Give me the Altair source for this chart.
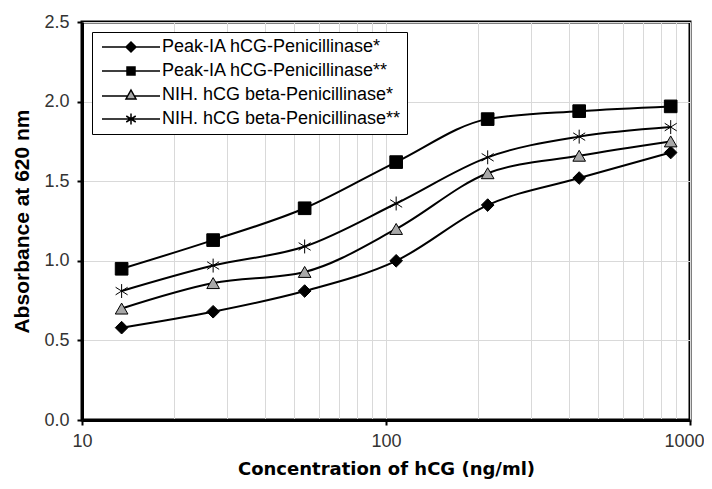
import altair as alt
import pandas as pd

# ---- data ----
conc = [13.5, 27, 54, 108, 216, 432, 864]
series_names = [
    "Peak-IA hCG-Penicillinase*",
    "Peak-IA hCG-Penicillinase**",
    "NIH. hCG beta-Penicillinase*",
    "NIH. hCG beta-Penicillinase**",
]
peak_ia_single = [0.58, 0.68, 0.81, 1.00, 1.35, 1.52, 1.68]
peak_ia_double = [0.95, 1.13, 1.33, 1.62, 1.89, 1.94, 1.97]
nih_single = [0.70, 0.86, 0.93, 1.20, 1.55, 1.66, 1.75]
nih_double = [0.81, 0.97, 1.09, 1.36, 1.65, 1.78, 1.84]

x_grid_values = [10, 20, 30, 40, 50, 60, 70, 80, 90,
                 100, 200, 300, 400, 500, 600, 700, 800, 900, 1000]
x_label_values = [10, 100, 1000]
y_tick_values = [0, 0.5, 1.0, 1.5, 2.0, 2.5]

rows = []
for name, vals in zip(series_names, [peak_ia_single, peak_ia_double, nih_single, nih_double]):
    for c, v in zip(conc, vals):
        rows.append({"series": name, "conc": c, "absorbance": v})
df = pd.DataFrame(rows)

star = "M0,-1.1V1.1M-0.95,-0.6L0.95,0.6M-0.95,0.6L0.95,-0.6"
marker_shapes = ["diamond", "square", "triangle-up", star]
legend_shapes = [
    "M-5.8,0H-1M1,0H5.8M-1,0L0,-1L1,0L0,1Z",
    "M-5.8,0H-0.8M0.8,0H5.8M-0.8,-0.8H0.8V0.8H-0.8Z",
    "M-5.8,0.2H-0.67M0.67,0.2H5.8M0,-1L1,0.8H-1Z",
    "M-5.8,0H5.8" + star,
]
fills = ["black", "black", "#a8a8a8", "black"]
strokes = ["black", "black", "black", "black"]
stroke_widths = [1, 1, 1.2, 2]

label_list = "[" + ",".join(str(v) for v in x_label_values) + "]"
major_test = f"indexof({label_list}, datum.value) >= 0"
last_test = f"datum.value == {x_label_values[-1]}"

x_enc = alt.X(
    "conc:Q",
    scale=alt.Scale(type="log", domain=[10, 1000], nice=False),
    axis=alt.Axis(
        values=x_grid_values,
        format="d",
        labelExpr=f"{major_test} ? datum.label : ''",
        labelOverlap=False,
        labelFlush=False,
        labelAlign={"condition": {"test": last_test, "value": "right"}, "value": "center"},
        labelOffset={"condition": {"test": last_test, "value": 14}, "value": 0},
        tickOpacity={"condition": {"test": major_test, "value": 1}, "value": 0},
        title="Concentration of hCG (ng/ml)",
        titleFont="DejaVu Sans",
        titleFontSize=18,
        titleFontWeight="bold",
        titlePadding=10,
        labelPadding=7,
    ),
)
y_enc = alt.Y(
    "absorbance:Q",
    scale=alt.Scale(domain=[0, 2.5], nice=False),
    axis=alt.Axis(
        values=y_tick_values,
        format=".1f",
        title="Absorbance at 620 nm",
        titleFont="Liberation Sans",
        titleFontSize=21,
        titleFontWeight="bold",
        titlePadding=11,
        labelPadding=8,
    ),
)

base = alt.Chart(df)

lines = base.mark_line(color="black", strokeWidth=2, interpolate="monotone").encode(
    x=x_enc, y=y_enc, detail="series:N", order="conc:Q"
)

points = base.mark_point(opacity=1, size=160).encode(
    x="conc:Q",
    y="absorbance:Q",
    shape=alt.Shape("series:N", scale=alt.Scale(domain=series_names, range=marker_shapes), legend=None),
    fill=alt.Fill("series:N", scale=alt.Scale(domain=series_names, range=fills), legend=None),
    stroke=alt.Stroke("series:N", scale=alt.Scale(domain=series_names, range=strokes), legend=None),
    strokeWidth=alt.StrokeWidth("series:N", scale=alt.Scale(domain=series_names, range=stroke_widths), legend=None),
)

legend_def = alt.Legend(
    title=None,
    orient="top-left",
    offset=10,
    symbolOffset=24,
    labelOffset=22,
    symbolSize=100,
    symbolStrokeWidth=1.5,
    labelFont="Liberation Sans",
    labelFontSize=18,
    labelColor="black",
    labelLimit=400,
    rowPadding=6,
    padding=6,
    strokeColor="black",
    fillColor="white",
)

legend_layer = base.transform_filter("datum.conc < 0").mark_point(
    strokeWidth=1.5, opacity=1, size=100
).encode(
    x="conc:Q",
    y="absorbance:Q",
    shape=alt.Shape("series:N", scale=alt.Scale(domain=series_names, range=legend_shapes), legend=legend_def),
    fill=alt.Fill("series:N", scale=alt.Scale(domain=series_names, range=fills), legend=legend_def),
    stroke=alt.Stroke("series:N", scale=alt.Scale(domain=series_names, range=strokes), legend=legend_def),
)

chart = (
    alt.layer(lines, points, legend_layer)
    .resolve_scale(shape="independent", fill="independent", stroke="independent")
    .properties(
        width=608,
        height=398,
        autosize=alt.AutoSizeParams(type="none"),
        padding={"left": 74, "top": 14, "right": 14, "bottom": 61},
        background="white",
    )
    .configure_view(stroke="black", strokeWidth=3)
    .configure_axis(
        domainColor="black",
        domainWidth=3,
        tickColor="black",
        tickWidth=2,
        tickSize=5,
        gridColor="#d9d9d9",
        gridWidth=1,
        labelFont="Liberation Sans",
        labelFontSize=18,
        labelColor="#333333",
        titleColor="black",
    )
)

chart.save("out.html", embed_options={"renderer": "svg", "actions": False})
